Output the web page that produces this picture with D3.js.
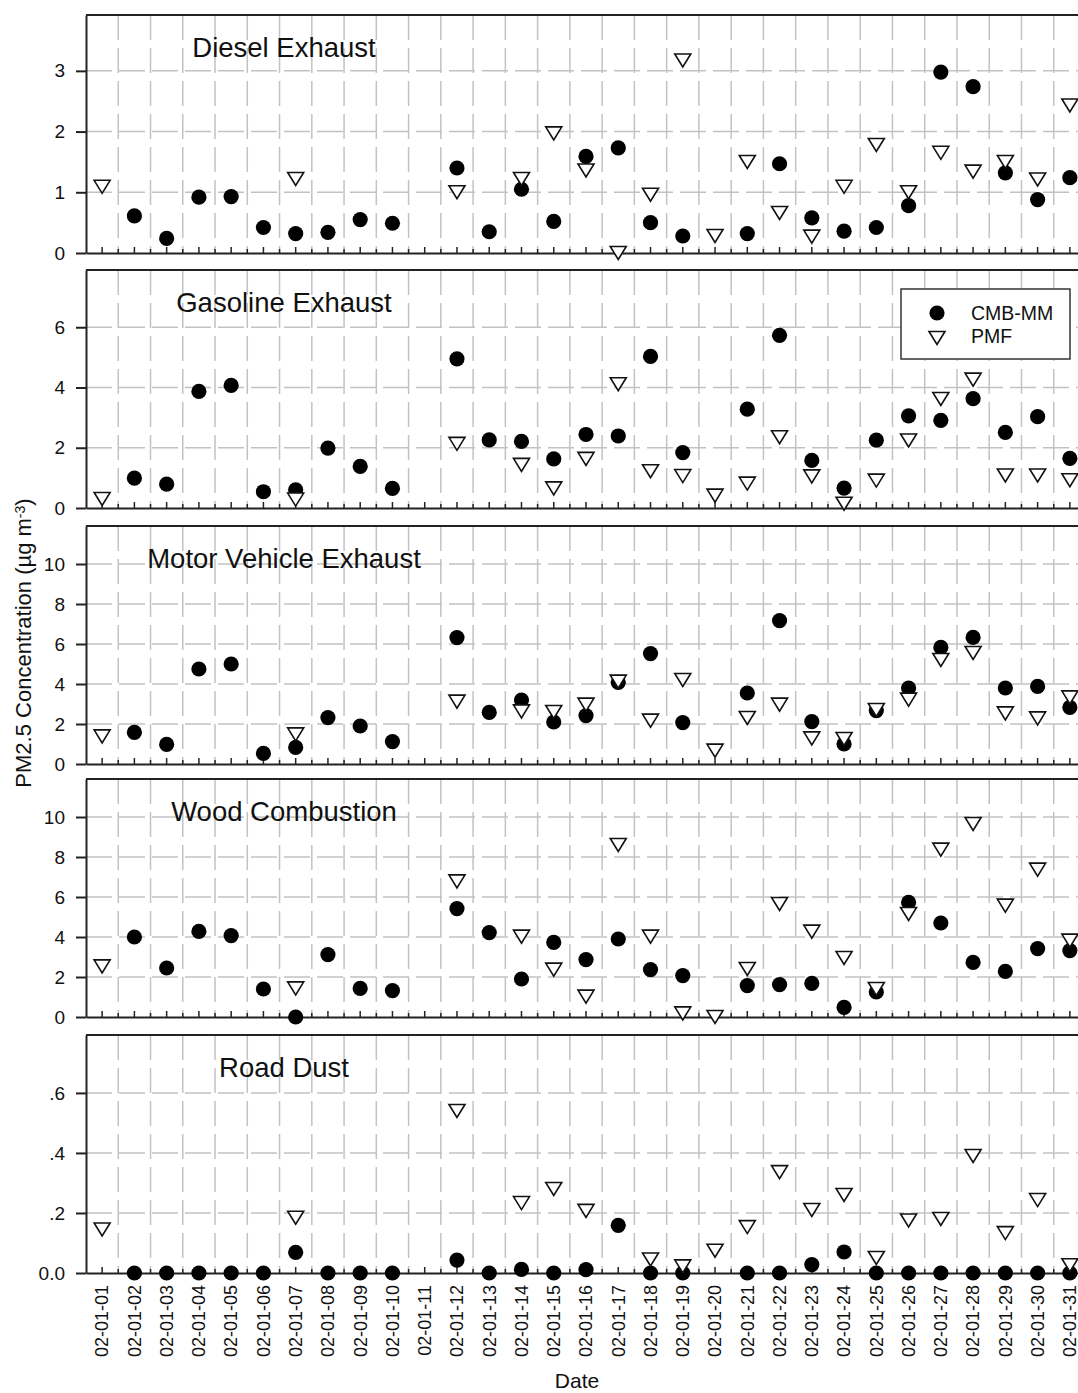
<!DOCTYPE html>
<html>
<head>
<meta charset="utf-8">
<script src="https://cdn.jsdelivr.net/npm/d3@7"></script>
<style>
  body { margin: 0; background: #fff; }
  svg text { font-family: "Liberation Sans", Arial, sans-serif; fill: #111; }
</style>
</head>
<body>
<svg id="chart"></svg>
<script>
// categories
const dates = ['02-01-01', '02-01-02', '02-01-03', '02-01-04', '02-01-05', '02-01-06', '02-01-07', '02-01-08',
  '02-01-09', '02-01-10', '02-01-11', '02-01-12', '02-01-13', '02-01-14', '02-01-15', '02-01-16', '02-01-17',
  '02-01-18', '02-01-19', '02-01-20', '02-01-21', '02-01-22', '02-01-23', '02-01-24', '02-01-25', '02-01-26',
  '02-01-27', '02-01-28', '02-01-29', '02-01-30', '02-01-31'];

// values (null = no sample)
const dieselCMB = [null, 0.61, 0.24, 0.92, 0.93, 0.42, 0.32, 0.34, 0.55, 0.49, null, 1.40, 0.35, 1.05, 0.52, 1.59,
  1.73, 0.50, 0.28, null, 0.32, 1.47, 0.58, 0.36, 0.42, 0.78, 2.98, 2.74, 1.32, 0.88, 1.24];
const dieselPMF = [1.09, null, null, null, null, null, 1.22, null, null, null, null, 1.00, null, 1.22, 1.97, 1.36,
  0.00, 0.96, 3.17, 0.28, 1.50, 0.66, 0.27, 1.09, 1.78, 1.00, 1.65, 1.34, 1.50, 1.21, 2.43];

const gasCMB = [null, 0.99, 0.79, 3.87, 4.07, 0.54, 0.60, 1.99, 1.38, 0.65, null, 4.95, 2.26, 2.21, 1.63, 2.44,
  2.39, 5.03, 1.84, null, 3.28, 5.73, 1.58, 0.66, 2.25, 3.06, 2.91, 3.63, 2.51, 3.03, 1.65];
const gasPMF = [0.30, null, null, null, null, null, 0.28, null, null, null, null, 2.13, null, 1.43, 0.65, 1.63,
  4.11, 1.22, 1.06, 0.41, 0.81, 2.35, 1.05, 0.14, 0.91, 2.24, 3.62, 4.26, 1.08, 1.08, 0.92];

const motorCMB = [null, 1.58, 0.98, 4.75, 5.00, 0.53, 0.83, 2.32, 1.90, 1.12, null, 6.32, 2.58, 3.20, 2.10, 2.42,
  4.08, 5.52, 2.07, null, 3.55, 7.17, 2.12, 1.00, 2.67, 3.80, 5.83, 6.33, 3.80, 3.88, 2.83];
const motorPMF = [1.38, null, null, null, null, null, 1.48, null, null, null, null, 3.12, null, 2.63, 2.60, 2.97,
  4.12, 2.17, 4.20, 0.67, 2.30, 2.97, 1.28, 1.25, 2.70, 3.22, 5.20, 5.55, 2.53, 2.28, 3.33];

const woodCMB = [null, 4.00, 2.45, 4.28, 4.07, 1.40, 0.00, 3.12, 1.43, 1.32, null, 5.42, 4.22, 1.90, 3.73, 2.87,
  3.90, 2.37, 2.07, null, 1.57, 1.62, 1.68, 0.48, 1.25, 5.73, 4.70, 2.73, 2.28, 3.42, 3.32];
const woodPMF = [2.53, null, null, null, null, null, 1.43, null, null, null, null, 6.78, null, 4.02, 2.37, 1.02,
  8.60, 4.02, 0.18, 0.00, 2.40, 5.65, 4.27, 2.95, 1.40, 5.15, 8.37, 9.65, 5.57, 7.37, 3.82];

const dustCMB = [null, 0, 0, 0, 0, 0, 0.069, 0, 0, 0, null, 0.043, 0, 0.012, 0, 0.011,
  0.159, 0, 0, null, 0, 0, 0.028, 0.070, 0, 0, 0, 0, 0, 0, 0];
const dustPMF = [0.145, null, null, null, null, null, 0.184, null, null, null, null, 0.540, null, 0.233, 0.280, 0.207,
  null, 0.045, 0.022, 0.074, 0.153, 0.336, 0.210, 0.260, 0.050, 0.175, 0.180, 0.390, 0.133, 0.243, 0.026];

// tick labels per panel
const dieselTicks = [0, 1, 2, 3];
const gasTicks = [0, 2, 4, 6];
const motorTicks = [0, 2, 4, 6, 8, 10];
const woodTicks = [0, 2, 4, 6, 8, 10];
const dustTicks = [0, 0.2, 0.4, 0.6];
const dustTickLabels = ['0.0', '.2', '.4', '.6'];

const panels = [
  { title: 'Diesel Exhaust', cmb: dieselCMB, pmf: dieselPMF, top: 3.92, ticks: dieselTicks },
  { title: 'Gasoline Exhaust', cmb: gasCMB, pmf: gasPMF, top: 7.9, ticks: gasTicks },
  { title: 'Motor Vehicle Exhaust', cmb: motorCMB, pmf: motorPMF, top: 11.9, ticks: motorTicks },
  { title: 'Wood Combustion', cmb: woodCMB, pmf: woodPMF, top: 11.9, ticks: woodTicks },
  { title: 'Road Dust', cmb: dustCMB, pmf: dustPMF, top: 0.793, ticks: dustTicks, labels: dustTickLabels }
];

const width = 1078, height = 1393;
const left = 86, right = 1086;
const panelH = 238;
const bottoms = [253, 508, 764, 1017, 1273];
const gridColor = '#c2c2c2';

const svg = d3.select('#chart')
  .attr('width', width)
  .attr('height', height);

const x = d3.scaleBand().domain(dates).range([left, right]).padding(0);
const cx = d => x(d) + x.bandwidth() / 2;

// down-pointing triangle marker
const tri = 'M-8,-6.5L8,-6.5L0,6.5Z';

panels.forEach((p, pi) => {
  const bottom = bottoms[pi];
  const y = d3.scaleLinear().domain([0, p.top]).range([bottom, bottom - panelH]);
  const g = svg.append('g');

  // vertical grid between days
  g.selectAll('.vgrid')
    .data(dates.slice(1))
    .enter().append('line')
    .attr('x1', d => x(d)).attr('x2', d => x(d))
    .attr('y1', bottom - panelH).attr('y2', bottom)
    .attr('stroke', gridColor).attr('stroke-width', 1.5)
    .attr('stroke-dasharray', '25,8');

  // horizontal grid at labelled ticks
  g.selectAll('.hgrid')
    .data(p.ticks.filter(t => t > 0))
    .enter().append('line')
    .attr('x1', left).attr('x2', right)
    .attr('y1', d => y(d)).attr('y2', d => y(d))
    .attr('stroke', gridColor).attr('stroke-width', 1.5)
    .attr('stroke-dasharray', '26,7');

  // top frame
  g.append('line')
    .attr('x1', left).attr('x2', right)
    .attr('y1', bottom - panelH).attr('y2', bottom - panelH)
    .attr('stroke', '#222').attr('stroke-width', 2);

  // y axis
  const yAxis = g.append('g')
    .attr('transform', `translate(${left},0)`)
    .call(d3.axisLeft(y)
      .tickValues(p.ticks)
      .tickSize(10).tickSizeOuter(0).tickPadding(11)
      .tickFormat((d, i) => p.labels ? p.labels[i] : d3.format('d')(d)));
  yAxis.selectAll('path, line').attr('stroke', '#222').attr('stroke-width', 2);
  yAxis.selectAll('text').style('font-size', '19px');

  // x axis, ticks pointing inward
  const xAxis = g.append('g')
    .attr('transform', `translate(0,${bottom})`)
    .call(d3.axisBottom(x).tickSize(-6).tickSizeOuter(0).tickPadding(0));
  xAxis.selectAll('path, line').attr('stroke', '#222').attr('stroke-width', 2);
  xAxis.selectAll('line').attr('stroke-width', 1.5);
  if (pi === panels.length - 1) {
    xAxis.selectAll('text')
      .attr('transform', 'rotate(-90)')
      .attr('x', -12).attr('y', 0).attr('dy', '0.35em')
      .attr('text-anchor', 'end')
      .style('font-size', '18px');
  } else {
    xAxis.selectAll('text').remove();
  }

  // minor ticks between days
  g.selectAll('.minor')
    .data(dates.slice(1))
    .enter().append('line')
    .attr('x1', d => x(d)).attr('x2', d => x(d))
    .attr('y1', bottom).attr('y2', bottom - 4)
    .attr('stroke', '#222').attr('stroke-width', 1.5);

  // CMB-MM points
  g.selectAll('.cmb')
    .data(dates.map((d, i) => ({ d, v: p.cmb[i] })).filter(o => o.v !== null))
    .enter().append('circle')
    .attr('cx', o => cx(o.d))
    .attr('cy', o => y(o.v))
    .attr('r', 7.6)
    .attr('fill', '#000');

  // PMF points
  g.selectAll('.pmf')
    .data(dates.map((d, i) => ({ d, v: p.pmf[i] })).filter(o => o.v !== null))
    .enter().append('path')
    .attr('d', tri)
    .attr('transform', o => `translate(${cx(o.d)},${y(o.v)})`)
    .attr('fill', '#fff')
    .attr('stroke', '#111')
    .attr('stroke-width', 1.6);

  // panel title
  g.append('text')
    .attr('x', 284)
    .attr('y', bottom - panelH + 42)
    .attr('text-anchor', 'middle')
    .style('font-size', '27.5px')
    .text(p.title);
});

// legend in the gasoline panel
const leg = svg.append('g');
leg.append('rect')
  .attr('x', 901).attr('y', 289).attr('width', 169).attr('height', 70)
  .attr('fill', '#fff').attr('stroke', '#333').attr('stroke-width', 1.5);
leg.append('circle').attr('cx', 937).attr('cy', 313).attr('r', 7.6).attr('fill', '#000');
leg.append('path').attr('d', tri).attr('transform', 'translate(937,338)')
  .attr('fill', '#fff').attr('stroke', '#111').attr('stroke-width', 1.6);
leg.append('text').attr('x', 971).attr('y', 320).style('font-size', '19.5px').text('CMB-MM');
leg.append('text').attr('x', 971).attr('y', 343).style('font-size', '19.5px').text('PMF');

// axis titles
const yTitle = svg.append('text')
  .attr('transform', 'translate(31,643) rotate(-90)')
  .attr('text-anchor', 'middle')
  .style('font-size', '22px');
yTitle.append('tspan').text('PM2.5 Concentration (\u00b5g m');
yTitle.append('tspan').attr('dy', '-0.45em').style('font-size', '14px').text('-3');
yTitle.append('tspan').attr('dy', '0.3em').text(')');

svg.append('text')
  .attr('x', 577).attr('y', 1388)
  .attr('text-anchor', 'middle')
  .style('font-size', '21px')
  .text('Date');
</script>
</body>
</html>
